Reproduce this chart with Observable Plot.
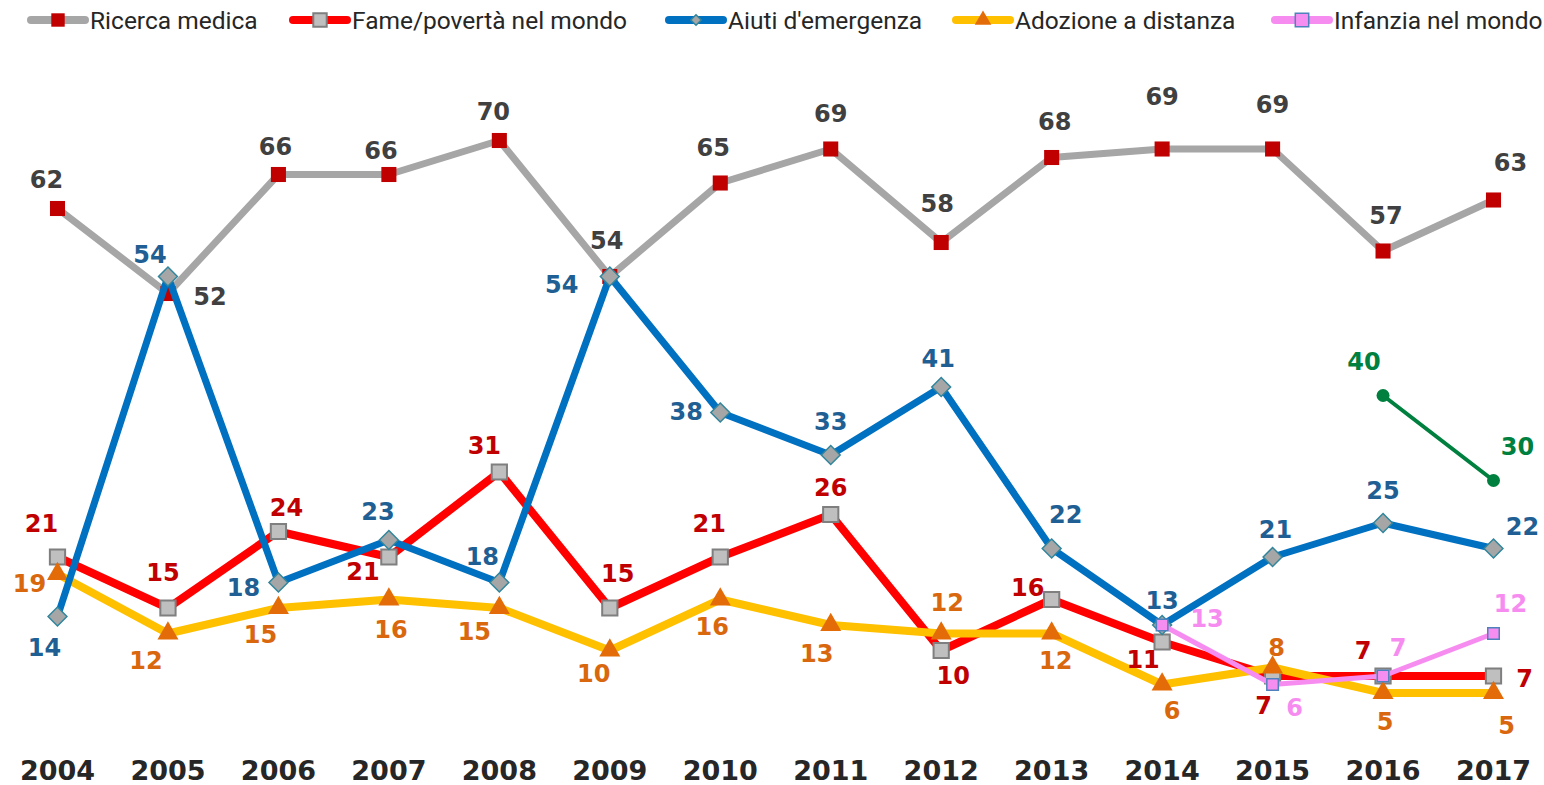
<!DOCTYPE html>
<html><head><meta charset="utf-8">
<script src="https://cdn.jsdelivr.net/npm/d3@7"></script>
<script src="https://cdn.jsdelivr.net/npm/@observablehq/plot@0.6"></script>
<style>
body{margin:0;background:#fff;}
#legend{position:relative;height:40px;font-family:Roboto,"Liberation Sans",sans-serif;font-size:24.5px;color:#262626;white-space:nowrap;}
.item{position:absolute;top:0;height:40px;display:flex;align-items:center;}
.item svg{margin-right:1px;}
</style></head><body>
<div id="legend"></div><div id="chart"></div>
<script>
// ---- data ----
const years = [2004,2005,2006,2007,2008,2009,2010,2011,2012,2013,2014,2015,2016,2017];
const ricercaMedica = [62,52,66,66,70,54,65,69,58,68,69,69,57,63];
const famePoverta   = [21,15,24,21,31,15,21,26,10,16,11,7,7,7];
const aiutiEmergenza= [14,54,18,23,18,54,38,33,41,22,13,21,25,22];
const adozione      = [19,12,15,16,15,10,16,13,12,12,6,8,5,5];
const infanziaYears = [2014,2015,2016,2017];
const infanzia      = [13,6,7,12];
const altroYears    = [2016,2017];
const altro         = [40,30];
const seriesNames = ["Ricerca medica","Fame/povertà nel mondo","Aiuti d'emergenza","Adozione a distanza","Infanzia nel mondo"];

// ---- label offsets (layout) ----
const offRicerca = [[-11,-28],[42,4],[-3,-27],[-8,-23],[-6,-28],[-3,-35],[-7,-35],[0,-35],[-4,-38],[3,-35],[0,-52],[0,-44],[3,-35],[17,-37]];
const offFame = [[-16,-33],[-5,-35],[8,-23],[-26,15],[-15,-26],[8,-34],[-11,-33],[0,-26],[12,26],[-24,-11],[-19,18],[-9,30],[-20,-25],[31,3]];
const offAiuti = [[-13,32],[-18,-21],[-35,6],[-11,-28],[-17,-25],[-48,9],[-34,0],[0,-33],[-3,-28],[14,-33],[0,-24],[3,-27],[0,-32],[29,-21]];
const offAdoz = [[-28,10],[-22,28],[-18,27],[2,31],[-25,24],[-16,24],[-8,28],[-14,29],[6,-30],[4,28],[10,27],[4,-19],[2,29],[13,33]];
const offInf = [[45,-6],[22,24],[15,-28],[17,-29]];
const offAltro = [[-19,-33],[24,-33]];
const legendX = [27, 289, 665, 952, 1271];

const series = [
  {name: seriesNames[0], xs: years, vs: ricercaMedica, line:"#a6a6a6", lw:7, symbol:"square", r:8.5, fill:"#c00000", stroke:"none", sw:0, lab:"#404040", off: offRicerca},
  {name: seriesNames[1], xs: years, vs: famePoverta, line:"#ff0000", lw:8, symbol:"square", r:8.6, fill:"#bfbfbf", stroke:"#7f7f7f", sw:2, lab:"#c00000", off: offFame},
  {name: seriesNames[3], xs: years, vs: adozione, line:"#ffc000", lw:8, symbol:"triangle", r:7.8, fill:"#e36c09", stroke:"none", sw:0, lab:"#d9670d", off: offAdoz},
  {name: seriesNames[2], xs: years, vs: aiutiEmergenza, line:"#0070c0", lw:7, symbol:"diamond2", r:8.5, fill:"#a6a6a6", stroke:"#31859c", sw:1.5, lab:"#1f5f93", off: offAiuti},
  {name: seriesNames[4], xs: infanziaYears, vs: infanzia, line:"#f78cf0", lw:5, symbol:"square", r:6.5, fill:"#f58ef0", stroke:"#4f81bd", sw:1.5, lab:"#f78cf0", off: offInf},
  {name: null, xs: altroYears, vs: altro, line:"#00803f", lw:4, symbol:"circle", r:6.5, fill:"#00803f", stroke:"none", sw:0, lab:"#00803f", off: offAltro}
];

const marks = [];
for (const s of series) {
  const data = s.xs.map((x,i) => ({year:x, value:s.vs[i], i}));
  marks.push(Plot.line(data, {x:"year", y:"value", stroke:s.line, strokeWidth:s.lw, strokeLinejoin:"round"}));
  marks.push(Plot.dot(data, {x:"year", y:"value", symbol:s.symbol, r:s.r, fill:s.fill, stroke:s.stroke, strokeWidth:s.sw}));
}
for (const s of series) {
  const data = s.xs.map((x,i) => ({year:x, value:s.vs[i], i}));
  for (const d of data) {
    marks.push(Plot.text([d], {x:"year", y:"value", text: d => String(d.value), dx: s.off[d.i][0], dy: s.off[d.i][1],
      fill: s.lab, fontSize: 24, fontWeight: "bold", fontFamily: "DejaVu Sans, sans-serif"}));
  }
}
marks.push(Plot.axisX({ticks: years, tickFormat: d => String(d), tickSize: 0, tickPadding: 25,
  fontSize: 27, fontWeight: "bold", fontFamily: "DejaVu Sans, sans-serif", fill:"#262626", label: null}));

const chart = Plot.plot({
  width: 1544, height: 745,
  marginLeft: 57, marginRight: 51, marginTop: 15, marginBottom: 50,
  x: {type:"linear", domain:[2004,2017], axis:null},
  y: {domain:[0,80], axis:null},
  style: {background:"#fff", overflow:"visible"},
  marks
});
document.getElementById("chart").appendChild(chart);

// ---- legend ----
const legendSeries = [series[0], series[1], series[3], series[2], series[4]];
const leg = d3.select("#legend");
legendSeries.forEach((s, k) => {
  const it = leg.append("div").attr("class","item").style("left", legendX[k] + "px");
  const sv = it.append("svg").attr("width",62).attr("height",24);
  sv.append("line").attr("x1",4).attr("x2",58).attr("y1",12).attr("y2",12).attr("stroke",s.line).attr("stroke-width", 8).attr("stroke-linecap","round");
  const sym = {square:d3.symbolSquare, triangle:d3.symbolTriangle, diamond2:d3.symbolDiamond2, circle:d3.symbolCircle}[s.symbol];
  const size = s.symbol==="diamond2" ? 70 : (s.symbol==="triangle" ? 120 : 180);
  sv.append("path").attr("transform","translate(31,12)").attr("d", d3.symbol(sym, size)()).attr("fill", s.fill).attr("stroke", s.stroke).attr("stroke-width", s.sw);
  it.append("span").text(s.name);
});
</script>
</body></html>
